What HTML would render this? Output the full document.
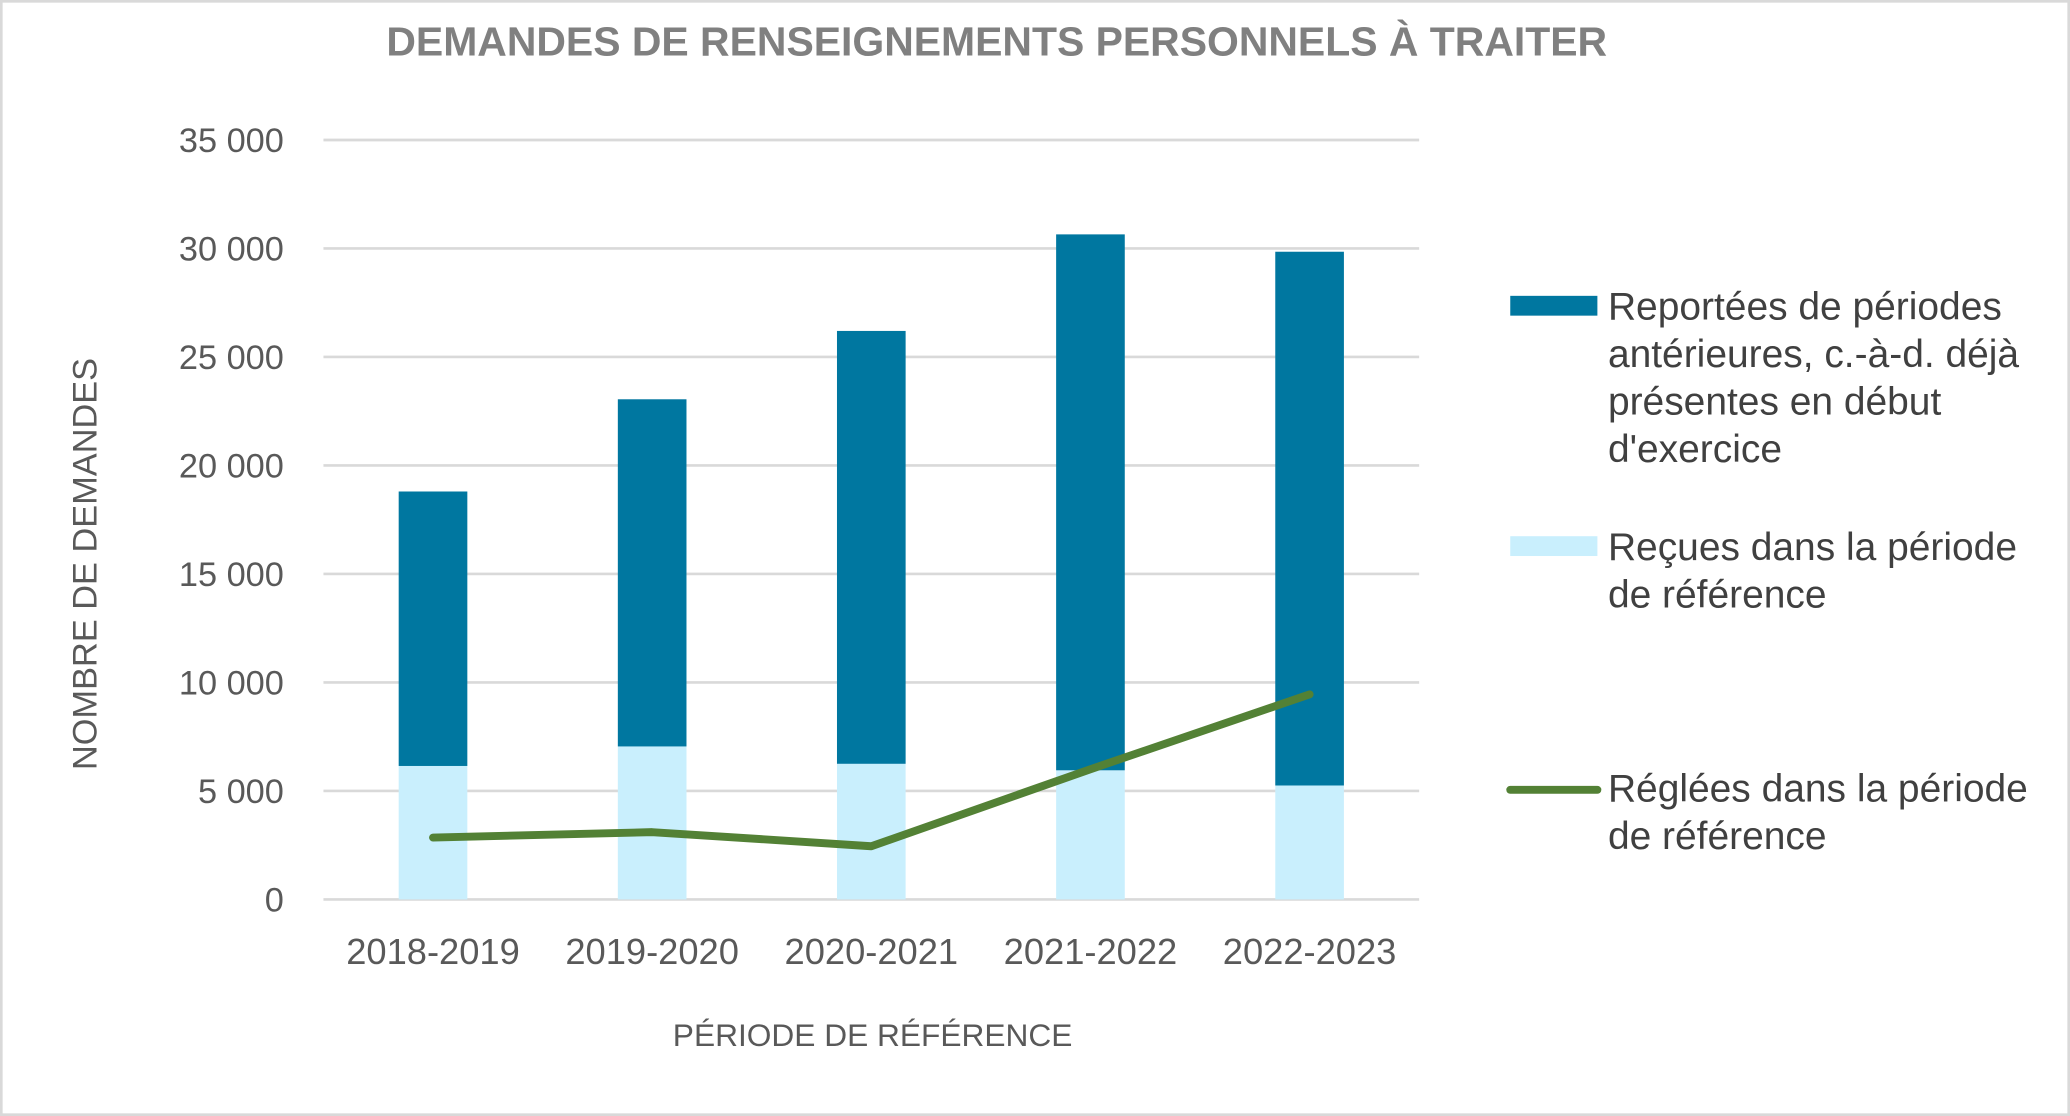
<!DOCTYPE html>
<html><head><meta charset="utf-8"><style>
html,body{margin:0;padding:0;background:#fff}
svg{display:block}
text{font-family:"Liberation Sans",sans-serif}
</style></head><body>
<svg id="chart" width="2070" height="1116" viewBox="0 0 1568 845" preserveAspectRatio="none">
<rect x="1" y="1" width="1566" height="843" fill="#fff" stroke="#d9d9d9" stroke-width="2"/>
<text x="755" y="42" text-anchor="middle" font-size="31" font-weight="bold" fill="#808080">DEMANDES DE RENSEIGNEMENTS PERSONNELS À TRAITER</text>
<g id="grid"></g><g id="bars"></g><g id="line"></g><g id="labels"></g>
<text transform="translate(73,427) rotate(-90)" text-anchor="middle" font-size="26" fill="#595959">NOMBRE DE DEMANDES</text>
<text x="661" y="792" text-anchor="middle" font-size="24" fill="#595959">PÉRIODE DE RÉFÉRENCE</text>
<g>
<rect x="1144" y="224" width="66" height="15" fill="#0077a0"/>
<text font-size="29.5" fill="#404040"><tspan x="1218" y="242">Reportées de périodes</tspan><tspan x="1218" y="278">antérieures, c.-à-d. déjà</tspan><tspan x="1218" y="314">présentes en début</tspan><tspan x="1218" y="350">d'exercice</tspan></text>
<rect x="1144" y="406" width="66" height="15" fill="#c9effd"/>
<text font-size="29.5" fill="#404040"><tspan x="1218" y="424">Reçues dans la période</tspan><tspan x="1218" y="460">de référence</tspan></text>
<line x1="1144" y1="598" x2="1210" y2="598" stroke="#538135" stroke-width="6" stroke-linecap="round"/>
<text font-size="29.5" fill="#404040"><tspan x="1218" y="607">Réglées dans la période</tspan><tspan x="1218" y="643">de référence</tspan></text>
</g>
</svg>
<script>
const categories=["2018-2019","2019-2020","2020-2021","2021-2022","2022-2023"];
const recues=[6150,7050,6250,5950,5250];
const reportees=[12650,16000,19950,24700,24600];
const reglees=[2850,3100,2450,6000,9450];
const yTicks=[0,5000,10000,15000,20000,25000,30000,35000];
const yTickLabels=["0","5 000","10 000","15 000","20 000","25 000","30 000","35 000"];
const NS="http://www.w3.org/2000/svg";
const x0=245,x1=1075,yBase=681,yTop=106,yMax=35000;
const y=v=>yBase-(v/yMax)*(yBase-yTop);
const band=(x1-x0)/categories.length;
const xc=i=>x0+band*(i+0.5);
const bw=52;
function mk(tag,attrs,parent){const e=document.createElementNS(NS,tag);for(const k in attrs)e.setAttribute(k,attrs[k]);parent.appendChild(e);return e;}
const grid=document.getElementById('grid'),bars=document.getElementById('bars'),line=document.getElementById('line'),labels=document.getElementById('labels');
yTicks.forEach((t,i)=>{
 const l=mk('line',{x1:x0,x2:x1,y1:y(t),y2:y(t),stroke:'#d9d9d9','stroke-width':2},grid);
 
 
 const tx=mk('text',{x:215,y:y(t)+9,'text-anchor':'end','font-size':26,fill:'#595959'},labels);
 tx.textContent=yTickLabels[i];
 
 
});
categories.forEach((c,i)=>{
 const r1=mk('rect',{x:xc(i)-bw/2,y:y(recues[i]),width:bw,height:y(0)-y(recues[i]),fill:'#c9effd'},bars);
 
 
 const top=recues[i]+reportees[i];
 const r2=mk('rect',{x:xc(i)-bw/2,y:y(top),width:bw,height:y(recues[i])-y(top),fill:'#0077a0'},bars);
 
 
 const tx=mk('text',{x:xc(i),y:730,'text-anchor':'middle','font-size':27.5,fill:'#595959'},labels);
 tx.textContent=c;
 
 
});
const pts=reglees.map((v,i)=>xc(i)+','+y(v)).join(' ');
const pl=mk('polyline',{points:pts,fill:'none',stroke:'#538135','stroke-width':6,'stroke-linejoin':'round','stroke-linecap':'round'},line);


</script>
</body></html>
